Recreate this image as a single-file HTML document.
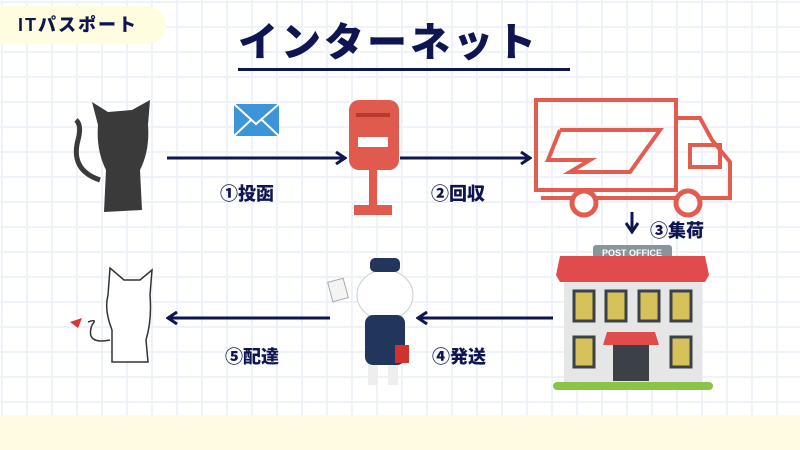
<!DOCTYPE html>
<html><head><meta charset="utf-8"><style>
html,body{margin:0;padding:0}
body{width:800px;height:450px;overflow:hidden;position:relative;background:#fff;
background-image:linear-gradient(#eef3fa 2px,transparent 2px),linear-gradient(90deg,#eef3fa 2px,transparent 2px);
background-size:25px 25px;background-position:1px 1px;font-family:"Liberation Sans","Noto Sans CJK JP",sans-serif}
.band{position:absolute;left:0;top:415px;width:800px;height:35px;background:#fffbe2}
.tag{position:absolute;left:-20px;top:6px;width:186px;height:38px;border-radius:19px;background:#fffde0;color:#0f1550;font-weight:900;font-size:18px;line-height:38px;padding-left:38px;box-sizing:border-box;letter-spacing:2px}
.title{position:absolute;left:238px;top:18px;font-size:40px;font-weight:900;color:#0f1550;letter-spacing:3px;line-height:50px}
.uline{position:absolute;left:238px;top:68px;width:332px;height:3px;background:#0f1550}
.lbl{position:absolute;font-size:18px;font-weight:900;color:#0f1550}
svg{position:absolute;left:0;top:0}
</style></head><body>
<div class="band"></div>
<div class="tag">ITパスポート</div>
<div class="title">インターネット</div>
<div class="uline"></div>
<div class="lbl" style="left:220px;top:180px">①投函</div>
<div class="lbl" style="left:431px;top:180px">②回収</div>
<div class="lbl" style="left:650px;top:217px">③集荷</div>
<div class="lbl" style="left:432px;top:343px">④発送</div>
<div class="lbl" style="left:225px;top:343px">⑤配達</div>
<svg width="800" height="450">
<defs><marker id="a" markerUnits="userSpaceOnUse" markerWidth="12" markerHeight="14" refX="10" refY="7" orient="auto"><path d="M1,1 L10,7 L1,13" fill="none" stroke="#0f1550" stroke-width="3"/></marker></defs>
<g stroke="#0f1550" stroke-width="3" fill="none">
<line x1="167" y1="158" x2="345" y2="158" marker-end="url(#a)"/>
<line x1="400" y1="158" x2="530" y2="158" marker-end="url(#a)"/>
<line x1="632" y1="212" x2="632" y2="232" marker-end="url(#a)"/>
<line x1="553" y1="318" x2="418" y2="318" marker-end="url(#a)"/>
<line x1="330" y1="318" x2="168" y2="318" marker-end="url(#a)"/>
</g>
<!-- black cat -->
<g fill="#3a3a3a"><path d="M98,125 L92,102 L108,112 L132,110 L150,100 L148,125 Q150,150 140,170 L142,210 L104,212 L106,170 Q96,150 98,125Z"/>
<path d="M100,180 Q70,170 78,140 Q82,125 76,120" stroke="#3a3a3a" stroke-width="5" fill="none"/></g>
<!-- envelope -->
<rect x="234" y="104" width="45" height="32" fill="#3b95d8"/><path d="M234,104 L256,124 L279,104 M234,136 L251,120 M279,136 L262,120" stroke="#fff" stroke-width="2" fill="none"/>
<!-- postbox -->
<rect x="349" y="100" width="50" height="70" rx="10" fill="#e05a4e"/><rect x="358" y="137" width="30" height="10" fill="#fff"/><rect x="356" y="113" width="34" height="4" fill="#b53a30"/>
<rect x="369" y="170" width="8" height="36" fill="#e05a4e"/><rect x="354" y="205" width="38" height="10" fill="#e05a4e"/>
<!-- truck -->
<g stroke="#e25c4f" stroke-width="4" fill="none">
<rect x="536" y="100" width="140" height="90"/>
<path d="M676,118 L700,118 L712,140 L730,162 L730,198 L676,198"/>
<rect x="690" y="145" width="30" height="22"/>
<path d="M541,198 L728,198"/><path d="M560,130 L660,130 L630,172 L570,172 L590,160 L548,160 L560,130"/>
</g>
<circle cx="584" cy="203" r="12" fill="#fff" stroke="#e25c4f" stroke-width="5"/>
<circle cx="688" cy="203" r="12" fill="#fff" stroke="#e25c4f" stroke-width="5"/>
<!-- post office -->
<rect x="593" y="245" width="79" height="14" rx="3" fill="#8a949b"/><text x="632" y="256" font-size="9" font-weight="bold" fill="#fff" text-anchor="middle" font-family="Liberation Sans,sans-serif">POST OFFICE</text>
<rect x="564" y="275" width="138" height="110" fill="#e6e6e6"/>
<path d="M560,282 L556,275 L560,256 L705,256 L709,275 L705,282Z" fill="#e04b4e"/>
<g fill="#d7c15a" stroke="#3c4147" stroke-width="3">
<rect x="574" y="291" width="20" height="30"/><rect x="606" y="291" width="20" height="30"/><rect x="639" y="291" width="20" height="30"/><rect x="671" y="291" width="20" height="30"/>
<rect x="574" y="337" width="20" height="30"/><rect x="671" y="337" width="20" height="30"/></g>
<path d="M607,332 L655,332 L659,345 L603,345Z" fill="#e04b4e"/>
<rect x="613" y="345" width="36" height="36" fill="#3c4147"/>
<rect x="553" y="382" width="160" height="8" rx="4" fill="#8bc34a"/>
<!-- mailman -->
<ellipse cx="385" cy="295" rx="28" ry="25" fill="#fff" stroke="#ccc"/><rect x="370" y="258" width="30" height="14" rx="5" fill="#22355a"/>
<rect x="365" y="315" width="40" height="50" rx="8" fill="#22355a"/><rect x="395" y="345" width="14" height="18" fill="#d0322e"/>
<rect x="368" y="365" width="10" height="20" fill="#eee"/><rect x="388" y="365" width="10" height="20" fill="#eee"/>
<rect x="330" y="280" width="16" height="20" fill="#f4f4f4" stroke="#aaa" transform="rotate(-15 338 290)"/>
<!-- white cat -->
<path d="M108,295 L110,268 L124,280 L140,280 L152,270 L150,295 Q152,320 146,340 L148,362 L112,362 L112,330 Q104,310 108,295Z" fill="#fff" stroke="#333" stroke-width="1.5"/>
<path d="M110,340 Q85,345 92,325 Q98,318 88,322" stroke="#333" stroke-width="1.5" fill="none"/><path d="M70,322 L82,318 L78,328Z" fill="#d33"/>
</svg>
</body></html>
